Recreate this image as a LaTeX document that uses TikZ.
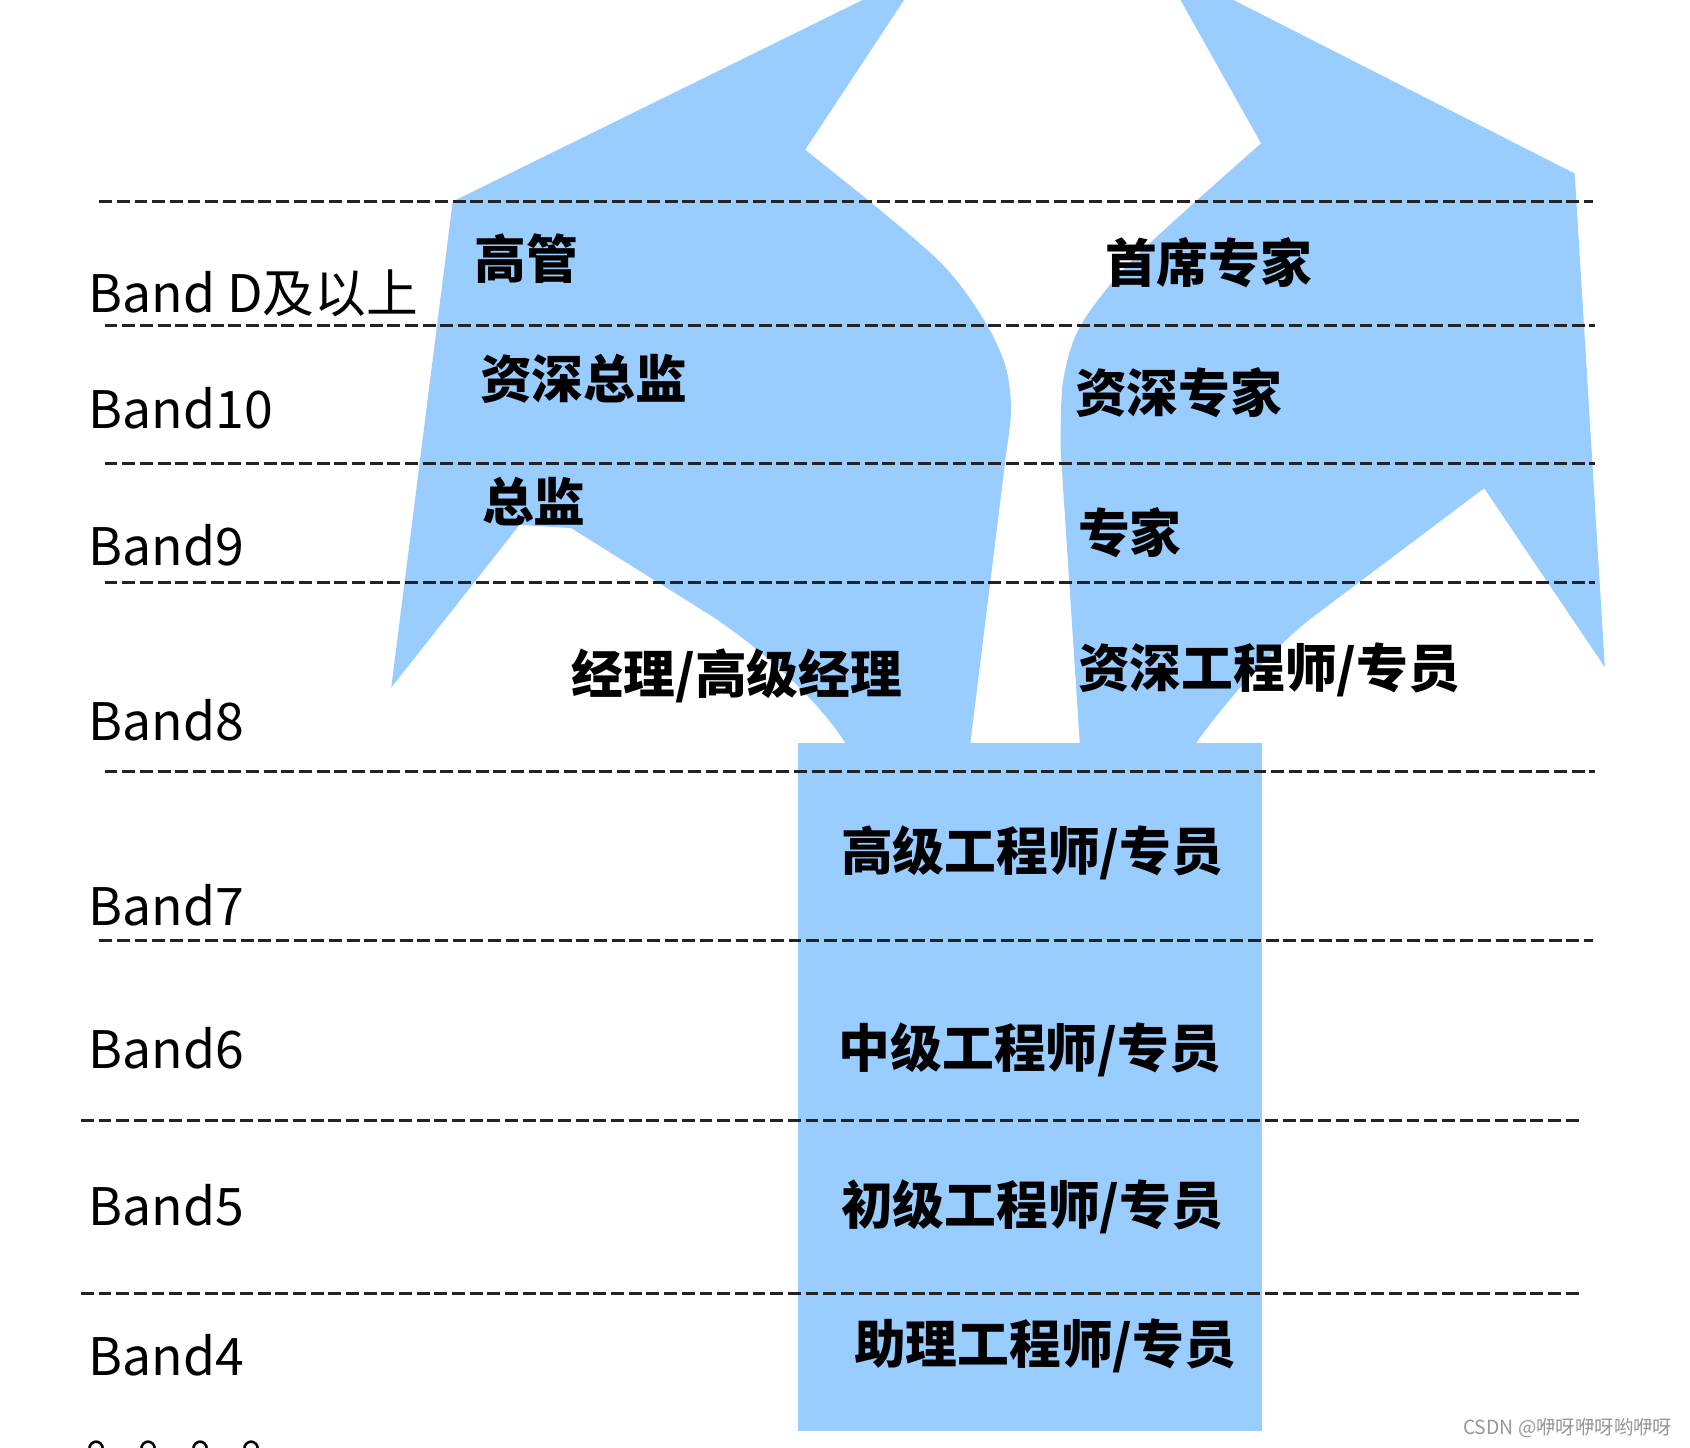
\documentclass[tikz,border=0pt]{standalone}
\usepackage{fontspec}
\setmainfont{Noto Sans CJK SC}
\definecolor{wingblue}{RGB}{153,204,255}
\definecolor{sepgray}{RGB}{35,35,35}
\definecolor{wmgray}{RGB}{150,150,150}
\begin{document}
\begin{tikzpicture}[x=0.5pt,y=-0.5pt,
  band/.style={anchor=base west,inner sep=0pt,font=\fontsize{24}{29}\selectfont},
  role/.style={anchor=base west,inner sep=0pt,font=\bfseries\fontsize{24}{28}\selectfont},
  sepline/.style={draw=sepgray,line width=1.4pt,dash pattern=on 6pt off 2.2pt},
  wing/.style={fill=wingblue,draw=none},
  wmark/.style={anchor=base east,inner sep=0pt,text=wmgray,font=\fontsize{9}{11}\selectfont}]
\useasboundingbox (0,0) rectangle (1568,1343);
\clip (0,0) rectangle (1568,1343);
% blue shapes
\fill[wing] (852,-20) -- plot[smooth,tension=0.55] coordinates {(747,139) (813,192) (876,247) (913,297) (933,340) (938,380) (934,417)}
  -- (900,692) -- (786,692) .. controls (760,650) and (710,605) .. (661,572)
  -- (530,490) -- (482,487) -- (363,638) -- (420,187) -- (841,-20) -- cycle;
\fill[wing] (1084,-20) -- plot[smooth,tension=0.55] coordinates {(1170,133) (1107,189) (1057,235) (1026,269) (999,309) (986,356) (984,417)}
  -- (1002,692) -- (1108,692) .. controls (1130,660) and (1180,600) .. (1224,568)
  -- (1377,453) -- (1489,619) -- (1461,161) -- (1105,-20) -- cycle;
\fill[wing] (740,689) rectangle (1171,1328);
% dashed separators
\coordinate (s1a) at (92,187);  \coordinate (s1b) at (1478,187);
\coordinate (s2a) at (97,302);  \coordinate (s2b) at (1480,302);
\coordinate (s3a) at (97,430);  \coordinate (s3b) at (1480,430);
\coordinate (s4a) at (97,540);  \coordinate (s4b) at (1480,540);
\coordinate (s5a) at (97,716);  \coordinate (s5b) at (1480,716);
\coordinate (s6a) at (92,873);  \coordinate (s6b) at (1478,873);
\coordinate (s7a) at (75,1040); \coordinate (s7b) at (1468,1040);
\coordinate (s8a) at (75,1200); \coordinate (s8b) at (1468,1200);
\foreach \i in {1,...,8} {\draw[sepline] (s\i a) -- (s\i b);}
% band labels
\node[band] (bD) at (82,290) {Band D及以上};
\node[band] (b10) at (82,398) {Band10};
\node[band] (b9) at (82,525) {Band9};
\node[band] (b8) at (82,687) {Band8};
\node[band] (b7) at (82,859) {Band7};
\node[band] (b6) at (82,991) {Band6};
\node[band] (b5) at (82,1137) {Band5};
\node[band] (b4) at (82,1276) {Band4};
\node[band] (bdots) at (80,1349) {。。。。};
% role labels
\node[role] (r1) at (440,258) {高管};
\node[role] (r2) at (1025,262) {首席专家};
\node[role] (r3) at (445,370) {资深总监};
\node[role] (r4) at (997,383) {资深专家};
\node[role] (r5) at (447,484) {总监};
\node[role] (r6) at (1000,513) {专家};
\node[role] (r7) at (530,643) {经理/高级经理};
\node[role] (r8) at (1000,638) {资深工程师/专员};
\node[role] (r9) at (780,808) {高级工程师/专员};
\node[role] (r10) at (778,990) {中级工程师/专员};
\node[role] (r11) at (780,1136) {初级工程师/专员};
\node[role] (r12) at (792,1265) {助理工程师/专员};
% watermark
\node[wmark] (wm) at (1552,1331) {CSDN @咿呀咿呀哟咿呀};
\end{tikzpicture}
\end{document}
